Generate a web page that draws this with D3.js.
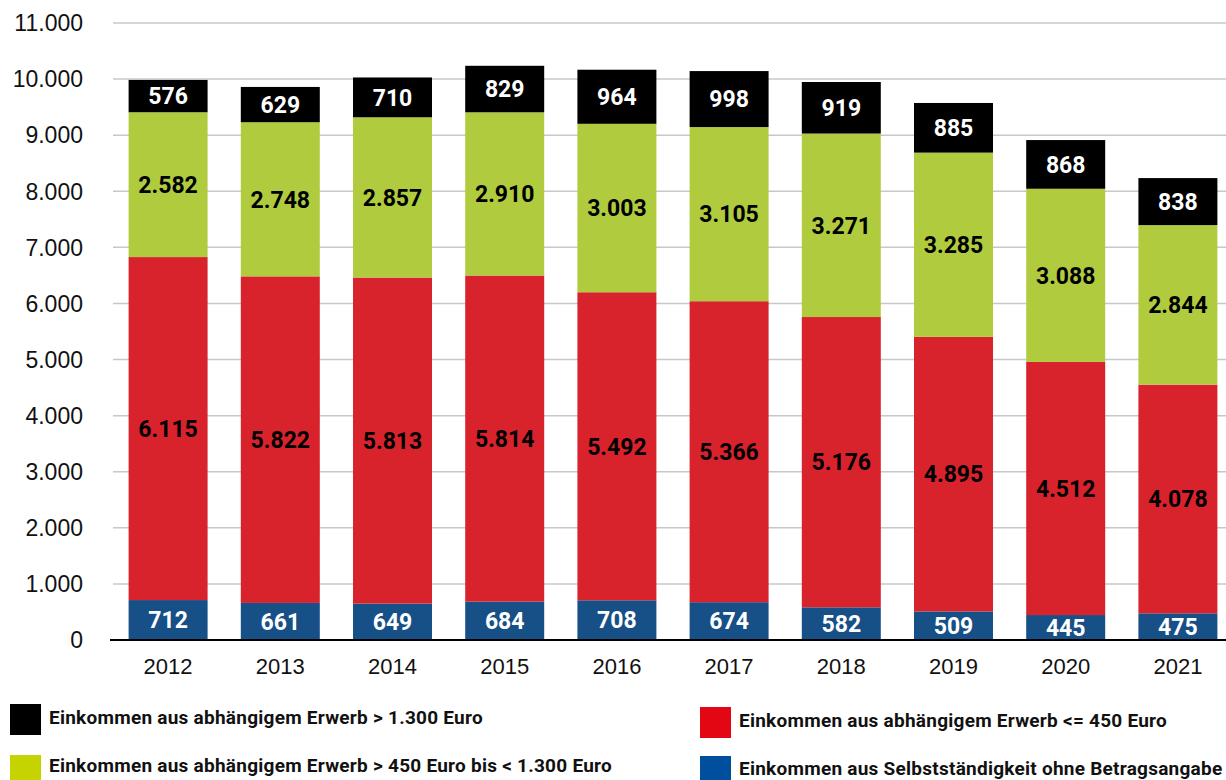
<!DOCTYPE html>
<html>
<head>
<meta charset="utf-8">
<script src="https://cdn.jsdelivr.net/npm/d3@7"></script>
<style>
    body { margin: 0; background: #fff; }
    svg { display: block; }
    .tick-label { font-family: "Liberation Sans", Arial, sans-serif; font-size: 22px; fill: #111; }
    .y-label { font-size: 23px; }
    .value-label { font-family: Roboto, sans-serif; font-weight: 700; font-size: 23px; }
    .legend-label { font-family: Roboto, sans-serif; font-weight: 700; font-size: 19px; letter-spacing: 0.25px; fill: #111; }
</style>
</head>
<body>
<svg id="chart" width="1226" height="780"></svg>
<script>
const years = ["2012", "2013", "2014", "2015", "2016", "2017", "2018", "2019", "2020", "2021"];
const selbst = [712, 661, 649, 684, 708, 674, 582, 509, 445, 475];
const bis450 = [6115, 5822, 5813, 5814, 5492, 5366, 5176, 4895, 4512, 4078];
const bis1300 = [2582, 2748, 2857, 2910, 3003, 3105, 3271, 3285, 3088, 2844];
const ueber1300 = [576, 629, 710, 829, 964, 998, 919, 885, 868, 838];
const yTicks = [0, 1000, 2000, 3000, 4000, 5000, 6000, 7000, 8000, 9000, 10000, 11000];

const seriesKeys = ["selbst", "bis450", "bis1300", "ueber1300"];
const barColor = { selbst: "#174f87", bis450: "#d8232c", bis1300: "#b0cc3e", ueber1300: "#000000" };
const textColor = { selbst: "#fff", bis450: "#000", bis1300: "#000", ueber1300: "#fff" };

const legendLabels = [
    "Einkommen aus abhängigem Erwerb > 1.300 Euro",
    "Einkommen aus abhängigem Erwerb <= 450 Euro",
    "Einkommen aus abhängigem Erwerb > 450 Euro bis < 1.300 Euro",
    "Einkommen aus Selbstständigkeit ohne Betragsangabe"
];
const legendColors = ["#000000", "#e30613", "#c5d300", "#004f9f"];
// legend box positions (x, y of square, text baseline)
const legendPos = [[10, 704, 724], [700, 707, 727], [10, 755, 772], [700, 756, 775]];

const rows = years.map((y, i) => ({
    year: y,
    selbst: selbst[i],
    bis450: bis450[i],
    bis1300: bis1300[i],
    ueber1300: ueber1300[i]
}));

const svg = d3.select("#chart");
const fmt = d3.format(",d");
const de = d => fmt(d).replace(/,/g, ".");

const x = d3.scaleBand().domain(years).range([112, 1234]).paddingInner(0.296).paddingOuter(0.148);
const y = d3.scaleLinear().domain([0, 11000]).range([640, 23]);

// grid
svg.append("g").selectAll("line").data(yTicks.slice(1)).join("line")
    .attr("x1", 113).attr("x2", 1226)
    .attr("y1", d => y(d)).attr("y2", d => y(d))
    .attr("stroke", "#c8c8c8").attr("stroke-width", 1.5);

svg.append("g").selectAll("text").data(yTicks).join("text")
    .attr("class", "tick-label y-label")
    .attr("x", 83).attr("y", d => y(d)).attr("dy", "0.36em")
    .attr("text-anchor", "end")
    .text(d => de(d));

const stack = d3.stack().keys(seriesKeys)(rows);

const layers = svg.append("g").selectAll("g").data(stack).join("g")
    .attr("fill", d => barColor[d.key]);

layers.selectAll("rect").data(d => d).join("rect")
    .attr("x", d => x(d.data.year))
    .attr("width", x.bandwidth())
    .attr("y", d => y(d[1]))
    .attr("height", d => y(d[0]) - y(d[1]));

svg.append("g").selectAll("g").data(stack).join("g")
    .attr("fill", d => textColor[d.key])
    .selectAll("text").data(d => d).join("text")
    .attr("class", "value-label")
    .attr("x", d => x(d.data.year) + x.bandwidth() / 2)
    .attr("y", d => (y(d[0]) + y(d[1])) / 2)
    .attr("dy", "0.36em")
    .attr("text-anchor", "middle")
    .text(d => de(d[1] - d[0]));

// baseline
svg.append("line")
    .attr("x1", 110).attr("x2", 1226)
    .attr("y1", y(0)).attr("y2", y(0))
    .attr("stroke", "#000").attr("stroke-width", 2);

svg.append("g").selectAll("text").data(years).join("text")
    .attr("class", "tick-label")
    .attr("x", d => x(d) + x.bandwidth() / 2)
    .attr("y", 674)
    .attr("text-anchor", "middle")
    .text(d => d);

// legend
const legend = svg.append("g").selectAll("g").data(legendLabels).join("g");

legend.append("rect")
    .attr("x", (d, i) => legendPos[i][0])
    .attr("y", (d, i) => legendPos[i][1])
    .attr("width", 31).attr("height", 31)
    .attr("fill", (d, i) => legendColors[i]);

legend.append("text")
    .attr("class", "legend-label")
    .attr("x", (d, i) => legendPos[i][0] + 39)
    .attr("y", (d, i) => legendPos[i][2])
    .text(d => d);
</script>
</body>
</html>
